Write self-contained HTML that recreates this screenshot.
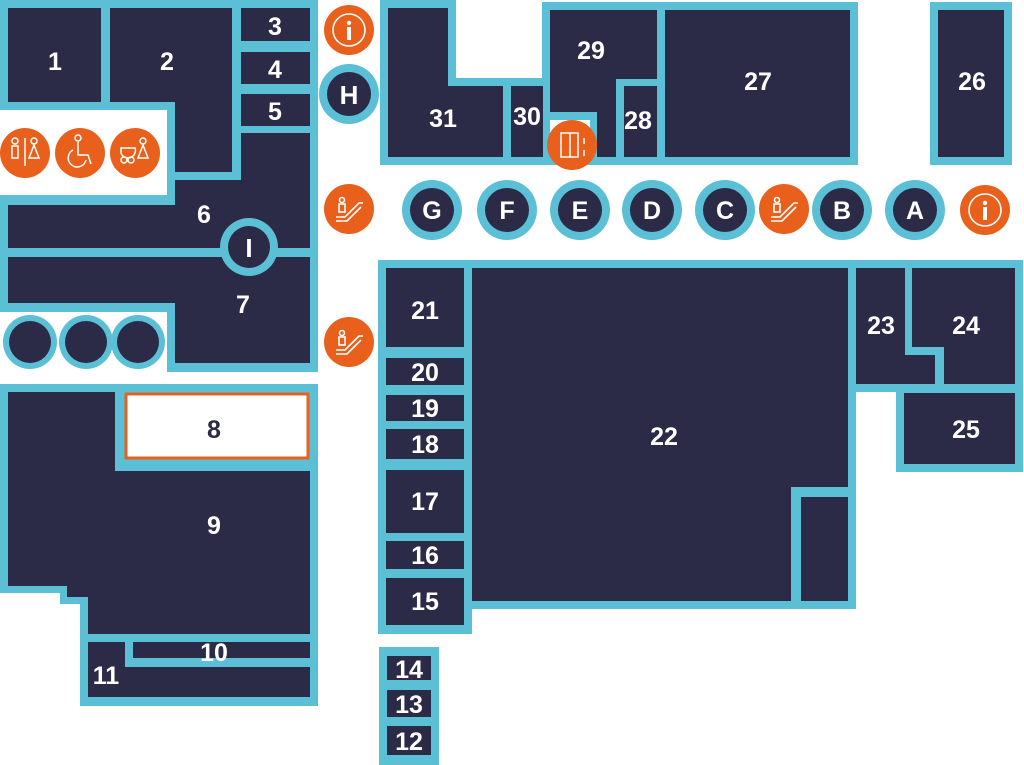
<!DOCTYPE html>
<html><head><meta charset="utf-8"><style>
html,body{margin:0;padding:0;background:#fff;}
svg{display:block}
text{font-family:"Liberation Sans",sans-serif;font-weight:bold;fill:#fff;text-anchor:middle;}
</style></head><body>
<svg width="1024" height="765" viewBox="0 0 1024 765" xmlns="http://www.w3.org/2000/svg">
<defs>
<g id="esc"><circle r="25" fill="#e8601c"/>
<g fill="none" stroke="#fff" stroke-width="1.6"><circle cx="-7" cy="-9" r="2.5"/><rect x="-10" y="-5" width="6" height="8"/><path d="M-13 8 H-4 L10 -6 H14 M-13 12 H-2 L12 -2"/></g></g>
<g id="info"><circle r="25" fill="#e8601c"/><circle r="16" fill="none" stroke="#fff" stroke-width="1.6"/><circle cy="-7" r="2.2" fill="#fff"/><rect x="-2" y="-3" width="4" height="13" fill="#fff"/></g>
</defs>
<g fill="#5bbfd6">
<polygon points="0,0 318,0 318,372 167,372 167,312 0,312 0,195 167,195 167,110 0,110"/>
<polygon points="380,0 456,0 456,78 542,78 542,2 858,2 858,165 380,165"/>
<rect x="930" y="2" width="82" height="163"/>
<polygon points="378,260 856,260 856,609 472,609 472,634 378,634"/>
<rect x="848" y="260" width="175" height="132"/>
<rect x="896" y="386" width="127" height="86"/>
<polygon points="0,384 318,384 318,706 80,706 80,604 60,604 60,593 0,593"/>
<rect x="379" y="647" width="60" height="118"/>
</g>
<g fill="#2b2a47">
<rect x="8" y="8" width="93" height="94"/>
<polygon points="110,8 232,8 232,172 175,172 175,102 110,102"/>
<rect x="241" y="8" width="69" height="33"/>
<rect x="241" y="52" width="69" height="32"/>
<rect x="241" y="94" width="69" height="32"/>
<polygon points="8,205 175,205 175,180 241,180 241,133 310,133 310,248 8,248"/>
<polygon points="8,257 310,257 310,363 175,363 175,303 8,303"/>
<polygon points="388,8 448,8 448,86 503,86 503,157 388,157"/>
<rect x="511" y="86" width="32" height="71"/>
<polygon points="550,10 657,10 657,79 616,79 616,157 597,157 597,112 550,112"/>
<rect x="624" y="86" width="33" height="71"/>
<rect x="665" y="10" width="185" height="147"/>
<rect x="938" y="10" width="66" height="147"/>
<rect x="386" y="268" width="78" height="79"/>
<rect x="386" y="358" width="78" height="27"/>
<rect x="386" y="395" width="78" height="26"/>
<rect x="386" y="429" width="78" height="30"/>
<rect x="386" y="470" width="78" height="63"/>
<rect x="386" y="541" width="78" height="28"/>
<rect x="386" y="578" width="78" height="47"/>
<polygon points="472,268 848,268 848,487 791,487 791,601 472,601"/>
<rect x="801" y="497" width="47" height="104"/>
<polygon points="856,268 905,268 905,355 935,355 935,384 856,384"/>
<polygon points="912,268 1015,268 1015,384 944,384 944,347 912,347"/>
<rect x="904" y="393" width="111" height="71"/>
<polygon points="8,392 115,392 115,471 310,471 310,634 88,634 88,597 67,597 67,586 8,586"/>
<rect x="133" y="642" width="177" height="16"/>
<polygon points="88,642 125,642 125,667 310,667 310,697 88,697"/>
<rect x="387" y="656" width="44" height="24"/>
<rect x="387" y="690" width="44" height="27"/>
<rect x="387" y="726" width="44" height="29"/>
</g>
<rect x="550" y="120" width="40" height="20" fill="#fff"/>
<rect x="126" y="394" width="182" height="64" fill="#fff" stroke="#e8601c" stroke-width="3"/>
<g>
<circle cx="30" cy="342" r="27" fill="#5bbfd6"/><circle cx="86" cy="342" r="27" fill="#5bbfd6"/><circle cx="138" cy="342" r="27" fill="#5bbfd6"/>
<circle cx="30" cy="342" r="21" fill="#2b2a47"/><circle cx="86" cy="342" r="21" fill="#2b2a47"/><circle cx="138" cy="342" r="21" fill="#2b2a47"/>
<circle cx="249" cy="247" r="29" fill="#5bbfd6"/><circle cx="249" cy="247" r="21" fill="#2b2a47"/>
<circle cx="349" cy="94" r="30" fill="#5bbfd6"/><circle cx="349" cy="94" r="22" fill="#2b2a47"/>
</g>
<g fill="#5bbfd6">
<circle cx="432" cy="210" r="30"/><circle cx="507" cy="210" r="30"/><circle cx="580" cy="210" r="30"/><circle cx="652" cy="210" r="30"/><circle cx="725" cy="210" r="30"/><circle cx="842" cy="210" r="30"/><circle cx="915" cy="210" r="30"/>
</g>
<g fill="#2b2a47">
<circle cx="432" cy="210" r="22"/><circle cx="507" cy="210" r="22"/><circle cx="580" cy="210" r="22"/><circle cx="652" cy="210" r="22"/><circle cx="725" cy="210" r="22"/><circle cx="842" cy="210" r="22"/><circle cx="915" cy="210" r="22"/>
</g>
<use href="#info" x="349" y="30"/>
<use href="#info" x="985" y="210"/>
<use href="#esc" x="349" y="209"/>
<use href="#esc" x="349" y="342"/>
<use href="#esc" x="784" y="209"/>
<g>
<circle cx="572" cy="145" r="25" fill="#e8601c"/>
<g fill="none" stroke="#fff" stroke-width="1.5"><rect x="-9" y="-12" width="17" height="24" transform="translate(570,145)"/><path d="M570 133 V157 M584 138 v6 M584 150 v6"/></g>
</g>
<g>
<circle cx="25" cy="153" r="25" fill="#e8601c"/><circle cx="80" cy="153" r="25" fill="#e8601c"/><circle cx="135" cy="153" r="25" fill="#e8601c"/>
<g fill="none" stroke="#fff" stroke-width="1.5">
<circle cx="15" cy="141" r="3"/><rect x="12" y="146" width="6" height="12"/><path d="M25 138 V166"/><circle cx="34" cy="141" r="3"/><path d="M34 145 L29 158 H39 Z"/>
<circle cx="78" cy="138" r="3"/><path d="M78 142 V155 H88 L91 164 M73 150 a9 9 0 1 0 13 10"/>
<circle cx="124" cy="160" r="3"/><circle cx="131" cy="160" r="3"/><path d="M121 148 h14 a5 5 0 0 1 -14 5 z"/><circle cx="143" cy="141" r="3"/><path d="M143 145 L138 158 H148 Z"/>
</g>
</g>
<g font-size="25">
<text x="55" y="70">1</text><text x="167" y="70">2</text><text x="275" y="35">3</text><text x="275" y="78">4</text><text x="275" y="120">5</text>
<text x="204" y="223">6</text><text x="243" y="313">7</text><text x="214" y="534">9</text><text x="214" y="661">10</text><text x="106" y="684">11</text>
<text x="249" y="257" font-size="26">I</text><text x="349" y="104" font-size="26">H</text>
<text x="443" y="127">31</text><text x="527" y="125">30</text><text x="591" y="59">29</text><text x="638" y="129">28</text><text x="758" y="90">27</text><text x="972" y="90">26</text>
<text x="432" y="219">G</text><text x="507" y="219">F</text><text x="580" y="219">E</text><text x="652" y="219">D</text><text x="725" y="219">C</text><text x="842" y="219">B</text><text x="915" y="219">A</text>
<text x="425" y="319">21</text><text x="425" y="381">20</text><text x="425" y="417">19</text><text x="425" y="453">18</text><text x="425" y="510">17</text><text x="425" y="564">16</text><text x="425" y="610">15</text>
<text x="664" y="445">22</text><text x="881" y="334">23</text><text x="966" y="334">24</text><text x="966" y="438">25</text>
<text x="409" y="678">14</text><text x="409" y="713">13</text><text x="409" y="750">12</text>
<text x="214" y="438" style="fill:#2b2a47">8</text>
</g>
</svg>
</body></html>
